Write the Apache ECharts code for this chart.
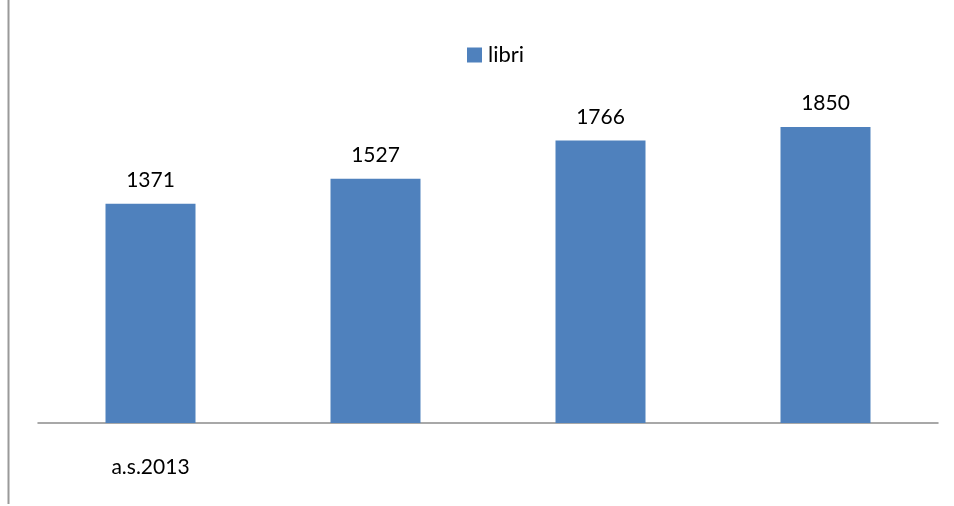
<!DOCTYPE html>
<html>
<head>
<meta charset="utf-8">
<script src="https://cdn.jsdelivr.net/npm/echarts@6/dist/echarts.min.js"></script>
<style>html,body{margin:0;padding:0;background:#fff}#c{width:954px;height:506px}</style>
</head>
<body>
<div id="c"></div>
<script>
const categories = ['a.s.2013', '', '', ''];
const seriesName = 'libri';
const libri = [1371, 1527, 1766, 1850];

const chart = echarts.init(document.getElementById('c'));
chart.setOption({
  animation: false,
  textStyle: { fontFamily: 'Lato, "Open Sans", sans-serif' },
  legend: {
    data: [seriesName],
    top: 39,
    left: 462,
    itemWidth: 15,
    itemHeight: 15,
    itemGap: 5,
    icon: 'rect',
    textStyle: { fontSize: 22, color: '#000', fontFamily: 'Lato, sans-serif', padding: [0, 0, 0, 1] }
  },
  grid: { left: 38, right: 16, top: 103, bottom: 83, containLabel: false },
  xAxis: {
    type: 'category',
    data: categories,
    axisLine: { lineStyle: { color: '#8c8c8c', width: 1.5 } },
    axisTick: { show: false },
    axisLabel: { color: '#000', fontSize: 21, margin: 34, fontFamily: 'Lato, sans-serif', interval: 0 }
  },
  yAxis: {
    type: 'value',
    min: 0,
    max: 2000,
    show: false,
    splitLine: { show: false }
  },
  series: [{
    name: seriesName,
    type: 'bar',
    data: libri,
    barWidth: '40%',
    itemStyle: { color: '#4f81bd' },
    label: {
      show: true,
      position: 'top',
      distance: 13,
      color: '#000',
      fontSize: 21,
      fontFamily: 'Lato, sans-serif'
    }
  }],
  graphic: [{
    type: 'line',
    shape: { x1: 8.5, y1: 0, x2: 8.5, y2: 504 },
    style: { stroke: '#9a9a9a', lineWidth: 2 }
  }]
});
</script>
</body>
</html>
